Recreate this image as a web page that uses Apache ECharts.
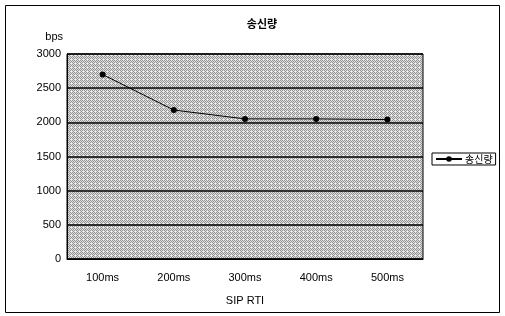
<!DOCTYPE html>
<html><head><meta charset="utf-8">
<script src="https://cdn.jsdelivr.net/npm/echarts@6/dist/echarts.min.js"></script>
<style>html,body{margin:0;padding:0;background:#fff}#c{width:505px;height:316px}</style>
</head><body><div id="c"></div>
<script>
var categories = ['100ms', '200ms', '300ms', '400ms', '500ms'];
var seriesName = '송신량';
var values = [2700, 2180, 2050, 2050, 2040];
var yTicks = [0, 500, 1000, 1500, 2000, 2500, 3000];

var pc = document.createElement('canvas');
pc.width = 4; pc.height = 4;
var ctx = pc.getContext('2d');
ctx.fillStyle = '#e0e0e0'; ctx.fillRect(0,0,4,4);
ctx.fillStyle = '#949494';
[[0,0],[2,0],[1,1],[3,1],[0,2],[2,2],[1,3]].forEach(function(p){ctx.fillRect(p[0],p[1],1,1);});
ctx.fillStyle = '#f4f4f4'; ctx.fillRect(3,3,1,1);

var chart = echarts.init(document.getElementById('c'), null, {renderer: 'canvas'});
var font = 'Liberation Sans, Arial, sans-serif';
chart.setOption({
  animation: false,
  textStyle: {fontFamily: font},
  title: {text: seriesName, left: 257, top: 13, textAlign: 'center',
    textStyle: {fontSize: 11, fontWeight: 'bold', color: '#000', fontFamily: 'Noto Sans CJK KR'}},
  graphic: [{type: 'rect', shape: {x: 5.5, y: 5.5, width: 494, height: 307},
    style: {fill: 'none', stroke: '#000', lineWidth: 1}, silent: true}],
  legend: {data: [seriesName], left: 432, top: 153, orient: 'vertical',
    borderColor: '#000', borderWidth: 1, padding: [1, 3, 1, 3], borderRadius: 0,
    itemWidth: 26, itemHeight: 7, itemGap: 4,
    textStyle: {fontSize: 10, color: '#000', fontFamily: 'Noto Sans CJK KR', padding: [0, 0, 0, -2]}},
  grid: {left: 67, right: 82, top: 54, bottom: 57, show: true,
    backgroundColor: {image: pc, repeat: 'repeat'}, borderColor: '#000', borderWidth: 1},
  xAxis: {type: 'category', data: categories, boundaryGap: true,
    name: 'SIP RTI', nameLocation: 'middle', nameGap: 36,
    nameTextStyle: {fontSize: 11, color: '#000'},
    axisLine: {lineStyle: {color: '#000'}},
    axisTick: {show: false},
    axisLabel: {fontSize: 11, color: '#000', margin: 13}},
  yAxis: {type: 'value', min: yTicks[0], max: yTicks[yTicks.length-1], interval: 500,
    name: 'bps', nameLocation: 'end', nameGap: 12,
    nameTextStyle: {fontSize: 11, color: '#000', align: 'right', padding: [0, 4, 0, 0]},
    axisLine: {show: true, lineStyle: {color: '#000'}},
    axisTick: {show: false},
    axisLabel: {fontSize: 11, color: '#000', margin: 6, formatter: function(v){return String(v);}},
    splitLine: {lineStyle: {color: '#000', width: 1.5}}},
  series: [{name: seriesName, type: 'line', data: values,
    symbol: 'circle', symbolSize: 6,
    lineStyle: {color: '#000', width: 1}, itemStyle: {color: '#000'}}]
});
</script></body></html>
